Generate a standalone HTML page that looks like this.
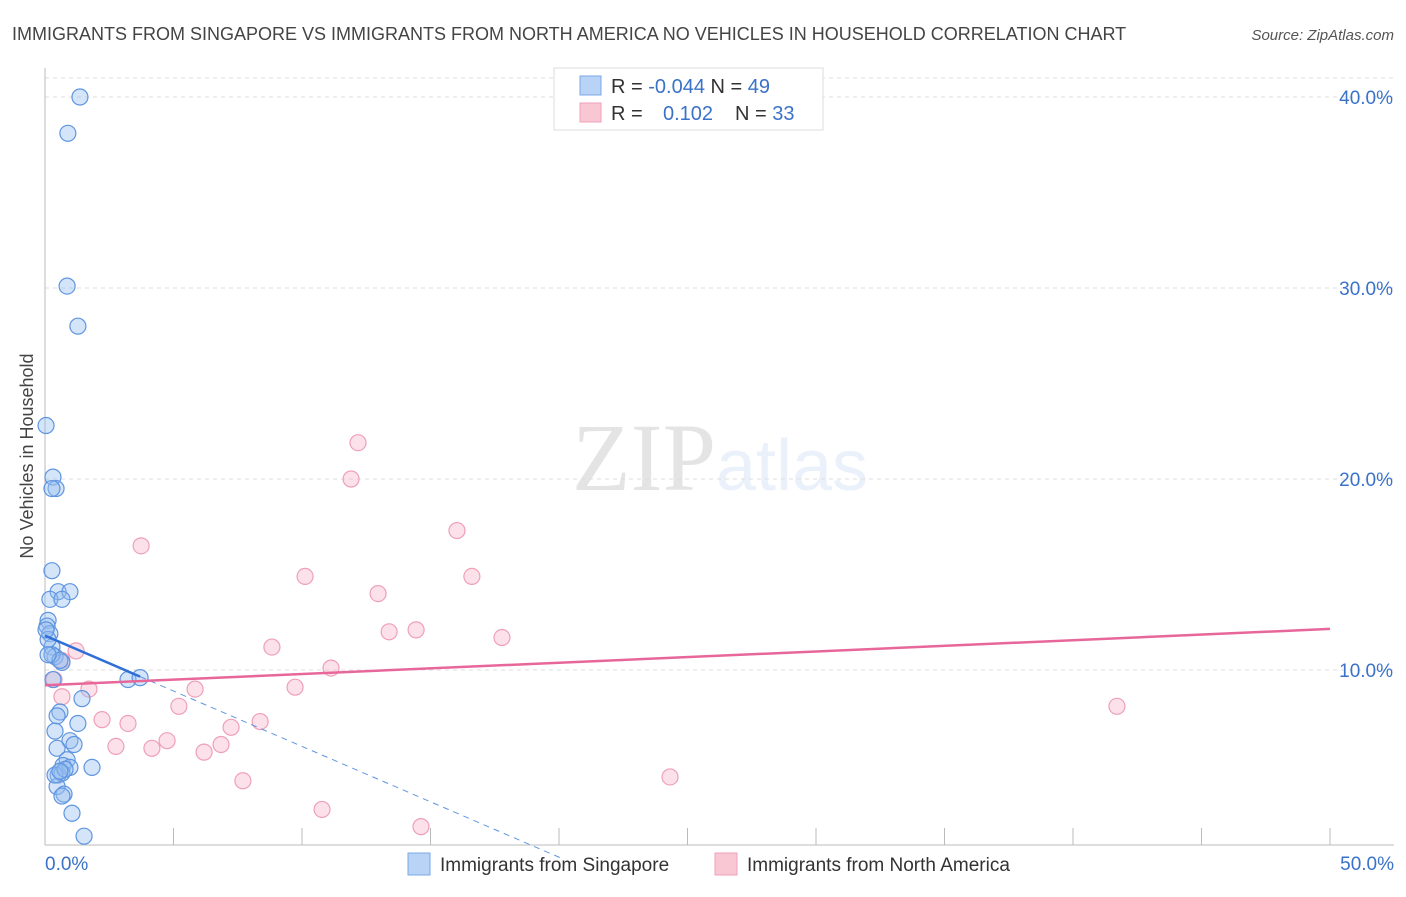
<!DOCTYPE html>
<html><head><meta charset="utf-8"><style>
body{margin:0;background:#fff;font-family:"Liberation Sans",sans-serif}
</style></head><body>
<svg id="chart" width="1406" height="892" xmlns="http://www.w3.org/2000/svg" font-family="Liberation Sans, sans-serif">
<text x="12" y="40" font-size="18" fill="#444">IMMIGRANTS FROM SINGAPORE VS IMMIGRANTS FROM NORTH AMERICA NO VEHICLES IN HOUSEHOLD CORRELATION CHART</text>
<text x="1394" y="40" font-size="15" fill="#555" text-anchor="end" font-style="italic">Source: ZipAtlas.com</text>
<text transform="translate(33,456) rotate(-90)" font-size="18" fill="#444" text-anchor="middle">No Vehicles in Household</text>
<text x="720" y="490" font-size="96" text-anchor="middle" fill="#000" opacity="0.1" font-family="Liberation Serif, serif">ZIP<tspan fill="#3a7bd5" opacity="1" font-family="Liberation Sans, sans-serif" font-size="72">atlas</tspan></text>
<g id="grid"></g><g id="axes"></g><g id="pts"></g><g id="trend"></g>
<g>
<rect x="554" y="68" width="269" height="62" fill="#fff" stroke="#ddd"/>
<rect x="580" y="76" width="21" height="19" fill="#b9d3f7" stroke="#7aa7e8"/>
<rect x="580" y="103" width="21" height="19" fill="#f9c6d4" stroke="#eea0b7"/>
<text x="611" y="93" font-size="20" fill="#333">R = <tspan fill="#3a72c9">-0.044</tspan>   N = <tspan fill="#3a72c9">49</tspan></text>
<text x="611" y="120" font-size="20" fill="#333">R = <tspan fill="#3a72c9" x="663">0.102</tspan><tspan x="735">N = </tspan><tspan fill="#3a72c9">33</tspan></text>
</g>
<g>
<rect x="408" y="853" width="22" height="22" fill="#b9d3f7" stroke="#7aa7e8"/>
<text x="440" y="871" font-size="19" fill="#333">Immigrants from Singapore</text>
<rect x="715" y="853" width="22" height="22" fill="#f9c6d4" stroke="#eea0b7"/>
<text x="747" y="871" font-size="19" fill="#333">Immigrants from North America</text>
</g>
</svg>
<script>
const yTicks=[10,20,30,40];
const yTickLabels=["10.0%","20.0%","30.0%","40.0%"];
const xTickLabels=["0.0%","50.0%"];
const blueX=[1.36,0.89,0.86,1.28,0.04,0.31,0.43,0.27,0.27,0.51,0.97,0.19,0.66,0.12,0.08,0.19,0.27,0.39,0.66,3.23,3.70,0.31,1.44,0.58,0.47,1.28,0.39,0.97,1.13,0.47,0.86,0.70,1.83,0.97,0.51,0.66,0.47,0.74,0.66,1.05,1.52,0.12,0.27,0.58,0.04,0.39,0.78,0.12,0.58];
const blueY=[40.0,38.1,30.1,28.0,22.8,20.1,19.5,19.5,15.2,14.1,14.1,13.7,13.7,12.6,12.3,11.9,11.2,10.7,10.4,9.5,9.6,9.5,8.5,7.8,7.6,7.2,6.8,6.3,6.1,5.9,5.3,5.0,4.9,4.9,4.5,4.6,3.9,3.5,3.4,2.5,1.3,11.6,10.8,10.5,12.1,4.5,4.8,10.8,4.7];
const pinkX=[12.18,11.91,16.03,3.74,10.12,16.61,12.96,13.39,14.44,17.78,8.83,1.21,11.13,0.66,0.35,1.71,5.84,9.73,0.66,5.21,41.71,2.22,3.23,7.24,8.37,4.75,2.76,4.16,6.85,6.19,7.70,24.32,10.78,14.63];
const pinkY=[21.9,20.0,17.3,16.5,14.9,14.9,14.0,12.0,12.1,11.7,11.2,11.0,10.1,10.5,9.5,9.0,9.0,9.1,8.6,8.1,8.1,7.4,7.2,7.0,7.3,6.3,6.0,5.9,6.1,5.7,4.2,4.4,2.7,1.8];
const blueTrend=[11.8,-0.58];
const pinkTrend=[9.2,0.059];
const NS="http://www.w3.org/2000/svg";
const X=v=>45+v*25.7, Y=v=>861-v*19.1;
function mk(t,a,p){const e=document.createElementNS(NS,t);for(const k in a)e.setAttribute(k,a[k]);document.getElementById(p).appendChild(e);return e;}
const gl=mk('line',{x1:45,x2:1394,y1:Y(41),y2:Y(41),stroke:'#ddd','stroke-dasharray':'4,4'},'grid');


yTicks.forEach((t,i)=>{
const l=mk('line',{x1:45,x2:1394,y1:Y(t),y2:Y(t),stroke:'#ddd','stroke-dasharray':'4,4'},'grid');


const tx=mk('text',{x:1393,y:Y(t)+7,'font-size':19,fill:'#3a72c9','text-anchor':'end'},'grid');tx.textContent=yTickLabels[i];


});
const ya=mk('line',{x1:45,x2:45,y1:68,y2:845,stroke:'#bbb'},'axes');


const xa=mk('line',{x1:45,x2:1394,y1:845,y2:845,stroke:'#bbb'},'axes');


for(let i=1;i<=10;i++){const t=mk('line',{x1:X(i*5),x2:X(i*5),y1:828,y2:845,stroke:'#bbb'},'axes');

}
[[0,'start',45],[50,'end',1394]].forEach((d,i)=>{const t=mk('text',{x:d[2],y:870,'font-size':19,fill:'#3a72c9','text-anchor':d[1]},'axes');t.textContent=xTickLabels[i];

});
pinkX.forEach((x,i)=>{const c=mk('circle',{cx:X(x),cy:Y(pinkY[i]),r:8,fill:'rgba(246,170,194,0.35)',stroke:'#eea0b7','stroke-width':1.2},'pts');

});
blueX.forEach((x,i)=>{const c=mk('circle',{cx:X(x),cy:Y(blueY[i]),r:8,fill:'rgba(150,190,240,0.4)',stroke:'#5f95e0','stroke-width':1.2},'pts');

});
const bt=v=>blueTrend[0]+blueTrend[1]*v, pt=v=>pinkTrend[0]+pinkTrend[1]*v;
const l1=mk('line',{x1:X(0),y1:Y(bt(0)),x2:X(3.7),y2:Y(bt(3.7)),stroke:'#2f6fd6','stroke-width':2.5},'trend');


const l2=mk('line',{x1:X(3.7),y1:Y(bt(3.7)),x2:X(20.2),y2:Y(bt(20.2)),stroke:'#5f95e0','stroke-width':1,'stroke-dasharray':'6,5'},'trend');


const l3=mk('line',{x1:X(0),y1:Y(pt(0)),x2:X(50),y2:Y(pt(50)),stroke:'#e8679a','stroke-width':2.5},'trend');


</script>
</body></html>
